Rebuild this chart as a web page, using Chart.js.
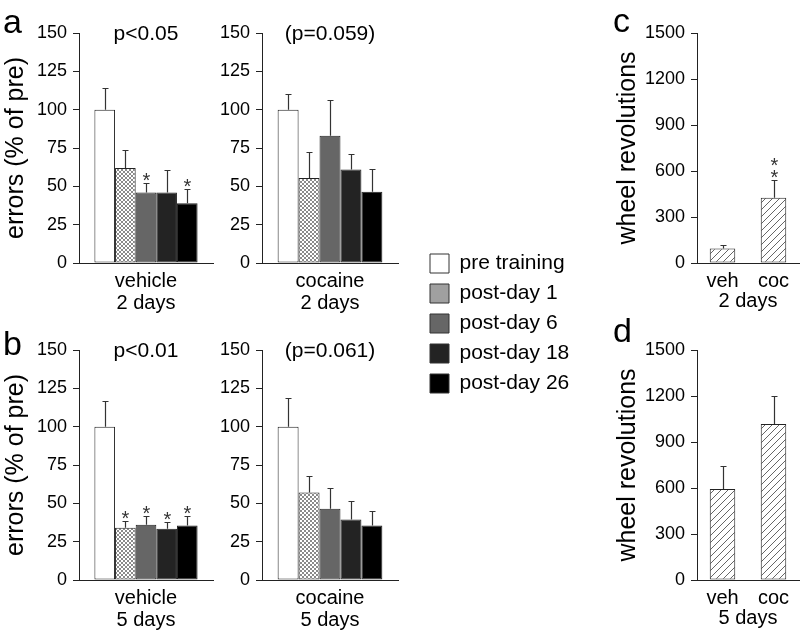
<!DOCTYPE html>
<html>
<head>
<meta charset="utf-8">
<script src="https://cdn.jsdelivr.net/npm/chart.js@4.4.1/dist/chart.umd.min.js"></script>
<style>
  html, body { margin: 0; background: #fff; }
  #fig { position: relative; width: 800px; height: 636px; overflow: hidden; }
  canvas { position: absolute; }
</style>
</head>
<body>
<div id="fig">
  <canvas id="a1" width="215" height="320" style="left:0;top:0"></canvas>
  <canvas id="a2" width="185" height="320" style="left:215px;top:0"></canvas>
  <canvas id="b1" width="215" height="320" style="left:0;top:317px"></canvas>
  <canvas id="b2" width="185" height="320" style="left:215px;top:317px"></canvas>
  <canvas id="leg" width="175" height="360" style="left:421px;top:244px"></canvas>
  <canvas id="c" width="200" height="320" style="left:600px;top:0"></canvas>
  <canvas id="d" width="200" height="320" style="left:600px;top:317px"></canvas>
</div>
<script>
// Errors (% of pre) for the five training time points, two groups per row,
// plus wheel running counts.
const SERIES = ["pre training", "post-day 1", "post-day 6", "post-day 18", "post-day 26"];

const A_VEH = [100, 62, 46, 46, 39];
const A_VEH_SEM = [14, 12, 6.5, 14.5, 9];
const A_VEH_STARS = [0, 0, 1, 0, 1];
const A_COC = [100, 55.5, 83, 61, 46.5];
const A_COC_SEM = [10, 17, 23, 10, 15];
const A_COC_STARS = [0, 0, 0, 0, 0];

const B_VEH = [100, 34, 36, 33.5, 35.5];
const B_VEH_SEM = [17, 4.5, 5.5, 4.5, 6.5];
const B_VEH_STARS = [0, 1, 1, 1, 1];
const B_COC = [100, 57, 46.5, 39.5, 35.5];
const B_COC_SEM = [19, 11, 13.5, 12, 9.5];
const B_COC_STARS = [0, 0, 0, 0, 0];

const X_A_VEH = ["vehicle", "2 days"];
const X_A_COC = ["cocaine", "2 days"];
const X_B_VEH = ["vehicle", "5 days"];
const X_B_COC = ["cocaine", "5 days"];
const P_A_VEH = "p<0.05";
const P_A_COC = "(p=0.059)";
const P_B_VEH = "p<0.01";
const P_B_COC = "(p=0.061)";

const WHEEL_GROUPS = ["veh", "coc"];
const C_WHEEL = [95, 425];
const C_WHEEL_SEM = [25, 115];
const C_STARS = [0, 2];
const D_WHEEL = [593, 1017];
const D_WHEEL_SEM = [150, 185];
const D_STARS = [0, 0];

const ERR_MAX = 150, ERR_STEP = 25;
const WHEEL_MAX = 1500, WHEEL_STEP = 300;

(function () {
  "use strict";

  const FONT = '"Liberation Sans", Arial, Helvetica, sans-serif';
  Chart.defaults.font.family = FONT;
  Chart.defaults.color = "#000";
  Chart.defaults.animation = false;

  // crossHatch: fine X pattern used for the post-day 1 bars.
  function crossHatch() {
    const c = document.createElement("canvas");
    c.width = c.height = 4;
    const g = c.getContext("2d");
    g.fillStyle = "#fff";
    g.fillRect(0, 0, 4, 4);
    g.fillStyle = "#8a8a8a";
    for (let i = 0; i < 4; i++) {
      g.fillRect(i, i, 1, 1);
      g.fillRect(3 - i, i, 1, 1);
    }
    return g.createPattern(c, "repeat");
  }

  // diagHatch: "/" lines on white for the wheel-running bars.
  function diagHatch() {
    const n = 7;
    const c = document.createElement("canvas");
    c.width = c.height = n;
    const g = c.getContext("2d");
    g.fillStyle = "#fff";
    g.fillRect(0, 0, n, n);
    g.strokeStyle = "#555";
    g.lineWidth = 0.9;
    g.beginPath();
    g.moveTo(-1, n + 1); g.lineTo(n + 1, -1);
    g.moveTo(-2, 1); g.lineTo(1, -2);
    g.moveTo(n - 1, n + 2); g.lineTo(n + 2, n - 1);
    g.stroke();
    return g.createPattern(c, "repeat");
  }

  const BAR_FILLS = ["#fff", crossHatch(), "#666", "#232323", "#000"];
  const LEGEND_FILLS = ["#fff", "#a0a0a0", "#666", "#232323", "#000"];

  // errorBars draws the upper SEM whisker plus any significance stars.
  // opts.errs[datasetIndex][dataIndex], opts.stars likewise.
  const errorBars = {
    id: "errorBars",
    afterDatasetsDraw(chart, args, opts) {
      const ctx = chart.ctx;
      const ys = chart.scales.y;
      ctx.save();
      chart.data.datasets.forEach((ds, di) => {
        const meta = chart.getDatasetMeta(di);
        meta.data.forEach((bar, j) => {
          const v = ds.data[j];
          const e = opts.errs[di][j];
          const x = Math.round(bar.x) + 0.5;
          const top = Math.round(ys.getPixelForValue(v + e)) + 0.5;
          ctx.strokeStyle = "#333";
          ctx.lineWidth = 1.2;
          ctx.beginPath();
          ctx.moveTo(x, bar.y);
          ctx.lineTo(x, top);
          ctx.moveTo(x - 3, top);
          ctx.lineTo(x + 3, top);
          ctx.stroke();
          const n = (opts.stars[di] || [])[j] || 0;
          ctx.fillStyle = "#333";
          ctx.font = "20px " + FONT;
          ctx.textAlign = "center";
          ctx.textBaseline = "alphabetic";
          for (let k = 0; k < n; k++) ctx.fillText("*", x, top + 3 - k * 12);
        });
      });
      ctx.restore();
    },
  };

  // panelText: panel letter and the p-value note above the bars.
  const panelText = {
    id: "panelText",
    afterDraw(chart, args, o) {
      const ctx = chart.ctx;
      const a = chart.chartArea;
      ctx.save();
      ctx.fillStyle = "#000";
      ctx.textBaseline = "alphabetic";
      if (o.letter) {
        ctx.font = "34px " + FONT;
        ctx.textAlign = "left";
        ctx.fillText(o.letter, o.lx, o.ly);
      }
      if (o.note) {
        ctx.font = "21px " + FONT;
        ctx.textAlign = "center";
        ctx.fillText(o.note, (a.left + a.right) / 2, a.top + 7);
      }
      ctx.restore();
    },
  };

  function yAxis(max, step, width, title, titlePad) {
    return {
      min: 0,
      max: max,
      ticks: { stepSize: step, font: { size: 18 }, padding: 6, color: "#000", callback: (v) => String(v) },
      grid: { display: true, drawOnChartArea: false, drawTicks: true, tickLength: 6, color: "#222", lineWidth: 1 },
      border: { display: true, color: "#222", width: 1 },
      title: title
        ? { display: true, text: title, font: { size: 25 }, padding: { top: titlePad, bottom: 0 }, color: "#000" }
        : { display: false },
      afterFit: (s) => { s.width = width; },
    };
  }

  function xAxis(title) {
    return {
      ticks: { font: { size: 20, lineHeight: 1.1 }, padding: 7, color: "#000", maxRotation: 0, autoSkip: false },
      grid: { display: false, drawTicks: false, tickLength: 0 },
      border: { display: true, color: "#222", width: 1 },
      title: title
        ? { display: true, text: title, font: { size: 20, lineHeight: 1.1 }, padding: { top: 0, bottom: 7.5 }, color: "#000" }
        : { display: false },
      afterFit: (s) => { s.height = 57; },
    };
  }

  function groupPanel(id, values, sems, stars, xLabel, note, axisW, yTitle, letter, ly) {
    return new Chart(document.getElementById(id), {
      type: "bar",
      data: {
        labels: [xLabel],
        datasets: SERIES.map((name, i) => ({
          label: name,
          data: [values[i]],
          backgroundColor: BAR_FILLS[i],
          borderColor: "#222",
          borderWidth: 1,
          borderSkipped: false,
          barPercentage: 1,
          categoryPercentage: 0.77,
        })),
      },
      options: {
        responsive: false,
        animation: false,
        layout: { padding: { top: 33, right: 2, left: 0, bottom: 0 } },
        scales: { x: xAxis(null), y: yAxis(ERR_MAX, ERR_STEP, axisW, yTitle, 1.5) },
        plugins: {
          legend: { display: false },
          tooltip: { enabled: false },
          errorBars: { errs: sems.map((s) => [s]), stars: stars.map((s) => [s]) },
          panelText: { letter: letter, lx: 3, ly: ly, note: note },
        },
      },
      plugins: [errorBars, panelText],
    });
  }

  function wheelPanel(id, values, sems, stars, title, letter, ly) {
    return new Chart(document.getElementById(id), {
      type: "bar",
      data: {
        labels: WHEEL_GROUPS,
        datasets: [{
          label: "wheel",
          data: values,
          backgroundColor: diagHatch(),
          borderColor: "#222",
          borderWidth: 1,
          borderSkipped: false,
          barPercentage: 1,
          categoryPercentage: 0.5,
        }],
      },
      options: {
        responsive: false,
        animation: false,
        layout: { padding: { top: 33, right: 1, left: 0, bottom: 0 } },
        scales: { x: xAxis(title), y: yAxis(WHEEL_MAX, WHEEL_STEP, 97, "wheel revolutions", 13) },
        plugins: {
          legend: { display: false },
          tooltip: { enabled: false },
          errorBars: { errs: [sems], stars: [stars] },
          panelText: { letter: letter, lx: 13, ly: ly },
        },
      },
      plugins: [errorBars, panelText],
    });
  }

  groupPanel("a1", A_VEH, A_VEH_SEM, A_VEH_STARS, X_A_VEH, P_A_VEH, 79, "errors (% of pre)", "a", 33);
  groupPanel("a2", A_COC, A_COC_SEM, A_COC_STARS, X_A_COC, P_A_COC, 47, null, null, 0);
  groupPanel("b1", B_VEH, B_VEH_SEM, B_VEH_STARS, X_B_VEH, P_B_VEH, 79, "errors (% of pre)", "b", 38);
  groupPanel("b2", B_COC, B_COC_SEM, B_COC_STARS, X_B_COC, P_B_COC, 47, null, null, 0);

  wheelPanel("c", C_WHEEL, C_WHEEL_SEM, C_STARS, "2 days", "c", 32);
  wheelPanel("d", D_WHEEL, D_WHEEL_SEM, D_STARS, "5 days", "d", 25);

  // Legend-only chart: the five series with solid swatches.
  new Chart(document.getElementById("leg"), {
    type: "bar",
    data: {
      labels: [""],
      datasets: SERIES.map((name, i) => ({
        label: name,
        data: [],
        backgroundColor: LEGEND_FILLS[i],
        borderColor: "#333",
        borderWidth: 1,
      })),
    },
    options: {
      responsive: false,
      animation: false,
      scales: { x: { display: false }, y: { display: false } },
      plugins: {
        tooltip: { enabled: false },
        legend: {
          position: "top",
          align: "start",
          labels: { boxWidth: 19, boxHeight: 19, padding: 9, font: { size: 21 }, color: "#000" },
        },
      },
    },
  });
})();
</script>
</body>
</html>
